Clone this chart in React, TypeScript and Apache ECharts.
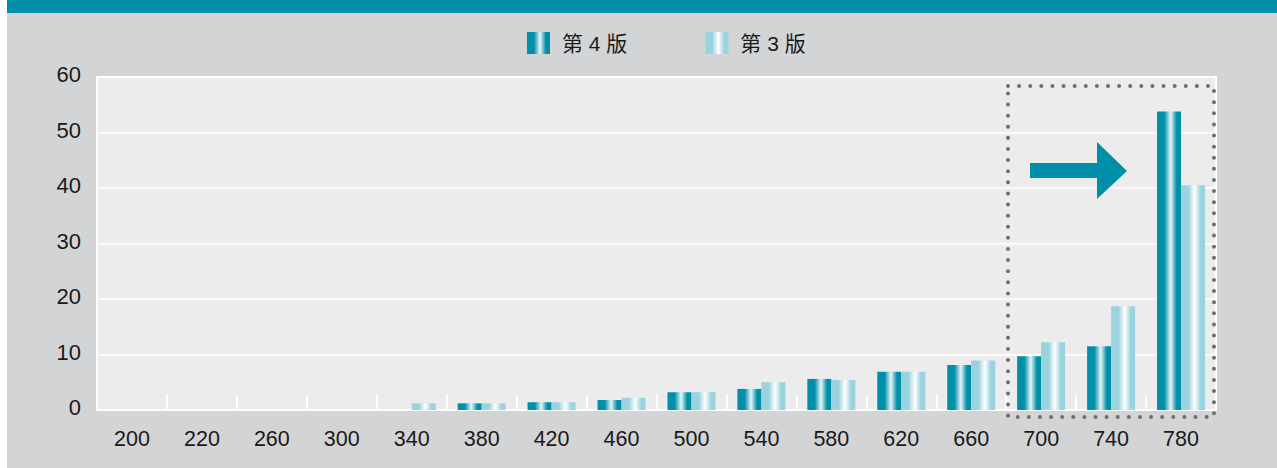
import React, { useEffect, useRef } from "react";
import * as echarts from "echarts";

const categories = ["200", "220", "260", "300", "340", "380", "420", "460", "500", "540", "580", "620", "660", "700", "740", "780"];
const seriesNames = ["第 4 版", "第 3 版"];
const edition4 = [0, 0, 0, 0, 0, 1.2, 1.4, 1.8, 3.2, 3.8, 5.6, 6.9, 8.1, 9.7, 11.5, 53.8];
const edition3 = [0, 0, 0, 0, 1.2, 1.2, 1.4, 2.2, 3.2, 5.0, 5.4, 6.9, 8.9, 12.2, 18.7, 40.5];
const yTicks = { min: 0, max: 60, interval: 10 };

const TEAL = "#008FA8";
const LIGHT = "#9AD2DE";
const OFFX = 7;

function grad(base: string, white: string) {
  return new echarts.graphic.LinearGradient(0, 0, 1, 0, [
    { offset: 0, color: base },
    { offset: 0.3, color: base },
    { offset: 0.57, color: white },
    { offset: 0.82, color: base },
    { offset: 1, color: base },
  ]);
}

export default function App() {
  const ref = useRef<HTMLDivElement>(null);
  useEffect(() => {
    if (!ref.current) return;
    const chart = echarts.init(ref.current, null, { renderer: "svg" });
    const font = '"Liberation Sans", Arial, "Noto Sans CJK SC", sans-serif';
    chart.setOption({
      animation: false,
      backgroundColor: "#D3D4D6",
      textStyle: { fontFamily: font },
      legend: {
        left: 527 - OFFX,
        top: 32,
        padding: 0,
        itemWidth: 23,
        itemHeight: 22,
        itemGap: 78,
        icon: "rect",
        textStyle: { fontSize: 21, color: "#1a1a1a", fontFamily: font, padding: [0, 0, 0, 7] },
        data: seriesNames,
      },
      grid: {
        left: 97 - OFFX,
        top: 77,
        right: 1270 - (1216 - OFFX),
        bottom: 468 - 410,
        show: true,
        backgroundColor: "#EBECEB",
        borderColor: "#FFFFFF",
        borderWidth: 2,
        containLabel: false,
      },
      xAxis: {
        type: "category",
        data: categories,
        axisLine: { show: true, lineStyle: { color: "#FFFFFF", width: 2 } },
        axisTick: { show: true, inside: true, length: 15, lineStyle: { color: "#FFFFFF", width: 2 } },
        axisLabel: { fontSize: 21.5, color: "#1a1a1a", margin: 18, fontFamily: font },
      },
      yAxis: {
        type: "value",
        min: yTicks.min,
        max: yTicks.max,
        interval: yTicks.interval,
        axisLine: { show: false },
        axisTick: { show: false },
        splitLine: { lineStyle: { color: "#FFFFFF", width: 1.5 } },
        axisLabel: {
          fontSize: 22,
          color: "#1a1a1a",
          margin: 16,
          fontFamily: font,
          verticalAlign: "bottom",
          lineHeight: 5,
        },
      },
      series: [
        {
          name: seriesNames[0],
          type: "bar",
          data: edition4,
          barWidth: 24,
          barGap: "0%",
          itemStyle: { color: grad(TEAL, "#E6F5F7") },
        },
        {
          name: seriesNames[1],
          type: "bar",
          data: edition3,
          barWidth: 24,
          barGap: "0%",
          itemStyle: { color: grad(LIGHT, "#FFFFFF") },
        },
      ],
      graphic: [
        {
          type: "rect",
          left: 0,
          top: 0,
          shape: { x: 0, y: 0, width: 1270, height: 13 },
          style: { fill: TEAL },
          z: 10,
        },
        {
          type: "rect",
          shape: { x: 1008 - OFFX, y: 86, width: 206, height: 331 },
          style: { fill: "none", stroke: "#6E6E6E", lineWidth: 4, lineDash: [0.01, 11.1], lineCap: "round" },
          z: 10,
        },
        {
          type: "polygon",
          shape: {
            points: [
              [1030 - OFFX, 163],
              [1097 - OFFX, 163],
              [1097 - OFFX, 142],
              [1127 - OFFX, 171],
              [1097 - OFFX, 199],
              [1097 - OFFX, 178],
              [1030 - OFFX, 178],
            ],
          },
          style: { fill: TEAL },
          z: 10,
        },
      ],
    });
    return () => chart.dispose();
  }, []);
  return (
    <div
      ref={ref}
      style={{ position: "absolute", left: OFFX, top: 0, width: 1270, height: 468 }}
    />
  );
}
